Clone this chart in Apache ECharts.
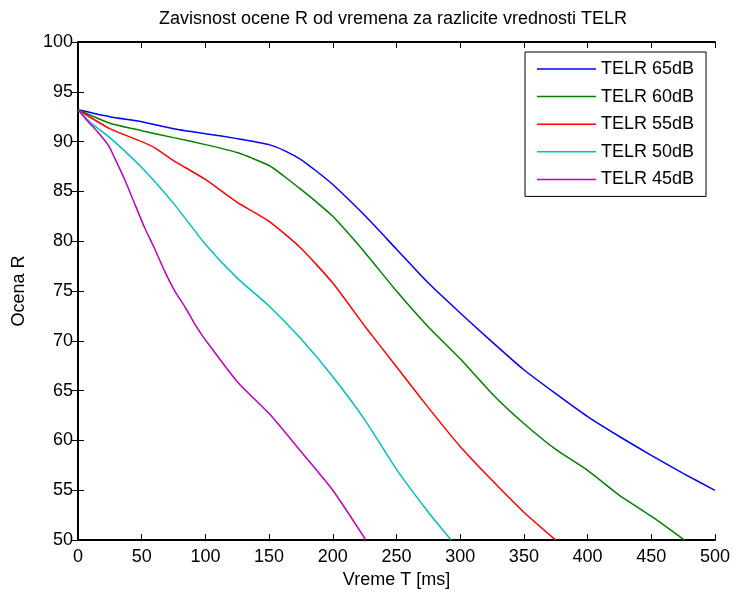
<!DOCTYPE html>
<html>
<head>
<meta charset="utf-8">
<title>Zavisnost ocene R</title>
<script src="https://cdn.jsdelivr.net/npm/echarts@6/dist/echarts.min.js"></script>
<style>
    html, body { margin: 0; padding: 0; background: #fff; }
    #chart { width: 733px; height: 594px; }
</style>
</head>
<body>
<div id="chart"></div>
<script>
    // tick values of the axes
    let xTicks = [0, 50, 100, 150, 200, 250, 300, 350, 400, 450, 500]
    let yTicks = [50, 55, 60, 65, 70, 75, 80, 85, 90, 95, 100]

    let legendNames = ['TELR 65dB', 'TELR 60dB', 'TELR 55dB', 'TELR 50dB', 'TELR 45dB']

    // vreme T [ms] and ocena R, per TELR value
    let t65 = [0, 25, 50, 75, 100, 125, 150, 162, 175, 187.5, 200, 225, 250, 275, 300, 325, 350, 375, 400, 425, 450, 475, 500]
    let r65 = [93.2, 92.5, 92.0, 91.3, 90.8, 90.3, 89.7, 89.1, 88.2, 87.0, 85.7, 82.6, 79.2, 75.8, 72.8, 69.9, 67.1, 64.7, 62.4, 60.4, 58.5, 56.7, 55.0]

    let t60 = [0, 25, 50, 75, 100, 125, 150, 162, 175, 187.5, 200, 225, 250, 275, 300, 325, 350, 375, 400, 425, 450, 476]
    let r60 = [93.2, 91.85, 91.1, 90.4, 89.7, 88.9, 87.6, 86.5, 85.2, 83.9, 82.5, 78.9, 75.0, 71.4, 68.2, 64.7, 61.7, 59.1, 57.0, 54.5, 52.4, 50.0]

    let t55 = [0, 25, 50, 60, 75, 100, 125, 150, 175, 200, 225, 250, 275, 300, 325, 350, 375]
    let r55 = [93.2, 91.3, 90.0, 89.4, 88.1, 86.2, 83.9, 82.0, 79.3, 75.8, 71.5, 67.4, 63.3, 59.4, 56.0, 52.8, 50.0]

    let t50 = [0, 10, 25, 50, 75, 100, 125, 150, 175, 200, 225, 250, 275, 293]
    let r50 = [93.2, 91.9, 90.4, 87.4, 83.8, 79.7, 76.3, 73.5, 70.2, 66.4, 62.1, 57.1, 52.8, 50.0]

    let t45 = [0, 8, 16, 24, 29, 37, 45, 52.5, 60, 68, 76, 84, 93, 100, 125, 150, 175, 200, 226]
    let r45 = [93.2, 92.0, 90.9, 89.6, 88.3, 86.1, 83.6, 81.3, 79.3, 77.0, 75.0, 73.4, 71.4, 70.1, 65.9, 62.7, 58.9, 55.0, 50.0]

    let colors = ['#0000ff', '#008000', '#ff0000', '#00bfbf', '#bf00bf']

    function pairs(t, r) {
        return t.map(function (v, i) { return [v, r[i]] })
    }

    let font = 'Liberation Sans, Arial, sans-serif'

    let axisCommon = {
        type: 'value',
        axisLine: { show: true, lineStyle: { color: '#000', width: 2 } },
        axisTick: { show: true, inside: true, length: 6, lineStyle: { color: '#000', width: 1 } },
        splitLine: { show: false }
    }

    let chart = echarts.init(document.getElementById('chart'))

    let option = {
        backgroundColor: '#fff',
        animation: false,
        color: colors,
        title: {
            text: 'Zavisnost ocene R od vremena za razlicite vrednosti TELR',
            left: 388,
            top: 5,
            textAlign: 'center',
            textStyle: { fontSize: 18, fontWeight: 'normal', color: '#000', fontFamily: font }
        },
        grid: { left: 78, right: 17, top: 42, bottom: 49 },
        legend: {
            orient: 'vertical',
            left: 525,
            top: 52,
            padding: [8, 12, 8, 12],
            icon: 'rect',
            itemWidth: 59,
            itemHeight: 1.5,
            itemGap: 9.6,
            backgroundColor: '#fff',
            borderColor: '#000',
            borderWidth: 1,
            borderRadius: 0,
            data: legendNames,
            textStyle: { fontSize: 18, color: '#000', fontFamily: font, lineHeight: 18 }
        },
        xAxis: [
            Object.assign({}, axisCommon, {
                position: 'bottom',
                min: xTicks[0],
                max: xTicks[xTicks.length - 1],
                interval: 50,
                name: 'Vreme T [ms]',
                nameLocation: 'middle',
                nameGap: 28,
                nameTextStyle: { fontSize: 18, color: '#000', fontFamily: font },
                axisLabel: { fontSize: 18, color: '#000', margin: 8, fontFamily: font }
            }),
            Object.assign({}, axisCommon, {
                position: 'top',
                min: xTicks[0],
                max: xTicks[xTicks.length - 1],
                interval: 50,
                axisLabel: { show: false }
            })
        ],
        yAxis: [
            Object.assign({}, axisCommon, {
                position: 'left',
                min: yTicks[0],
                max: yTicks[yTicks.length - 1],
                interval: 5,
                name: 'Ocena R',
                nameLocation: 'middle',
                nameGap: 50,
                nameTextStyle: { fontSize: 18, color: '#000', fontFamily: font },
                axisLabel: { fontSize: 18, color: '#000', margin: 5, fontFamily: font }
            }),
            Object.assign({}, axisCommon, {
                position: 'right',
                min: yTicks[0],
                max: yTicks[yTicks.length - 1],
                interval: 5,
                axisLabel: { show: false }
            })
        ],
        series: [
            [t65, r65], [t60, r60], [t55, r55], [t50, r50], [t45, r45]
        ].map(function (s, i) {
            return {
                name: legendNames[i],
                type: 'line',
                data: pairs(s[0], s[1]),
                symbol: 'none',
                smooth: 0.2,
                clip: true,
                lineStyle: { width: 1.5, color: colors[i] },
                itemStyle: { color: colors[i] }
            }
        })
    }

    chart.setOption(option)

    window.addEventListener('resize', function () {
        chart.resize()
    })
</script>
</body>
</html>
